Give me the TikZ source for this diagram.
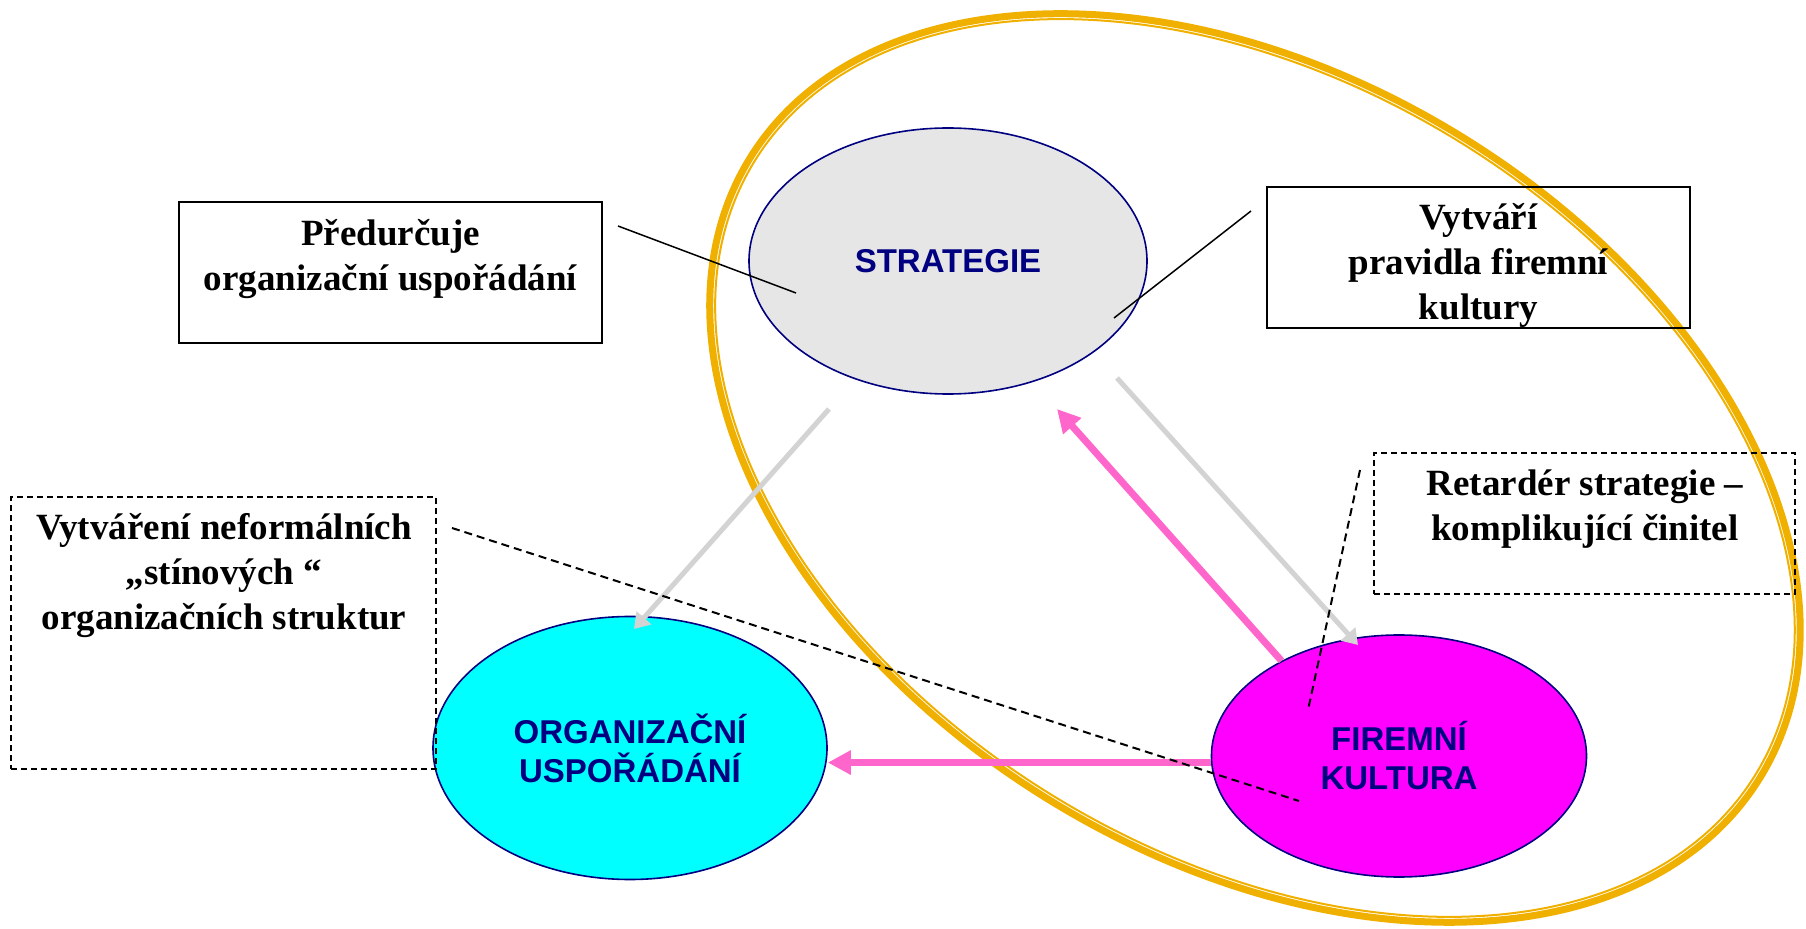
\documentclass[tikz,border=0pt]{standalone}
\usepackage{fontspec}
\newfontfamily\notefont{Liberation Serif}
\newfontfamily\ovalfont{Liberation Sans}
\usetikzlibrary{shapes.geometric,arrows.meta}
\definecolor{ringorange}{RGB}{240,176,0}
\definecolor{ovalnavy}{RGB}{0,0,128}
\definecolor{ovalgray}{RGB}{230,230,230}
\definecolor{ovalcyan}{RGB}{0,255,255}
\definecolor{ovalmagenta}{RGB}{255,0,255}
\definecolor{arrowpink}{RGB}{255,102,204}
\definecolor{arrowgray}{RGB}{211,211,211}

\begin{document}
\begin{tikzpicture}[x=0.5pt,y=0.5pt,
  oval/.style={ellipse,draw=ovalnavy,line width=0.8pt,inner sep=0pt,align=center,
    text=ovalnavy,font=\ovalfont\bfseries\fontsize{16.5}{19.5}\selectfont},
  notebox/.style={draw,line width=1pt,inner sep=0pt,minimum width=211.5pt,minimum height=70.5pt},
  dashbox/.style={notebox,dash pattern=on 3pt off 2pt},
  notetext/.style={align=center,inner sep=0pt,font=\notefont\bfseries\fontsize{18.5}{22.5}\selectfont},
  pointer/.style={line width=0.75pt},
  dashpointer/.style={line width=1pt,dash pattern=on 4pt off 2.5pt},
  pinkarrow/.style={draw=arrowpink,line width=3.5pt,-{Triangle[length=11.5pt,width=11.5pt]}},
  grayarrow/.style={draw=arrowgray,line width=2.5pt,-{Triangle[length=7.5pt,width=9.5pt]}}]

\useasboundingbox (0,0) rectangle (1806,928);

\coordinate (R_C) at (1255,460);
\draw[ringorange,line width=3.5pt,rotate around={-31.4:(R_C)}] (R_C) ellipse [x radius=296.25pt,y radius=195.25pt];
\draw[ringorange,line width=1pt,rotate around={-31.4:(R_C)}] (R_C) ellipse [x radius=293.5pt,y radius=192.5pt];

\node[oval,fill=ovalgray,minimum width=199pt,minimum height=133pt] (E_S) at (948,667) {STRATEGIE};
\node[oval,fill=ovalcyan,minimum width=197pt,minimum height=131.5pt] (E_O) at (630,180) {ORGANIZAČNÍ\\USPOŘÁDÁNÍ};
\node[oval,fill=ovalmagenta,minimum width=187.5pt,minimum height=121pt] (E_F) at (1399,172) {FIREMNÍ\\KULTURA};

\coordinate (P_S1) at (829,519);
\coordinate (P_O1) at (634,299);
\coordinate (P_S2) at (1117,550);
\coordinate (P_F1) at (1358,283);
\coordinate (P_S3) at (1057,519);

\draw[grayarrow] (P_S1) -- (P_O1);
\draw[grayarrow] (P_S2) -- (P_F1);
\draw[pinkarrow] (E_F.141) -- (P_S3);
\draw[pinkarrow] (E_F.182) -- (E_F.182 -| E_O.east);

\node[notebox] (B_1) at (390.5,655.5) {};
\node[notetext] (T_1) at (390.5,668.5) {Předurčuje\\organizační uspořádání};
\node[notebox] (B_2) at (1478.5,670.5) {};
\node[notetext] (T_2) at (1478.5,662.5) {Vytváří\\pravidla firemní\\kultury};
\node[dashbox,minimum width=212.5pt,minimum height=136pt] (B_3) at (223.5,295) {};
\node[notetext] (T_3) at (224,352.5) {Vytváření neformálních\\„stínových “\\organizačních struktur};
\node[dashbox,minimum width=210.5pt] (B_4) at (1584.5,404.5) {};
\node[notetext] (T_4) at (1585,419) {Retardér strategie –\\komplikující činitel};

\coordinate (P_1a) at (618,702);
\coordinate (P_1b) at (796,635);
\coordinate (P_2a) at (1251,717);
\coordinate (P_2b) at (1114,610);
\coordinate (P_3a) at (452,400);
\coordinate (P_3b) at (1299,127);
\coordinate (P_4a) at (1360,458);
\coordinate (P_4b) at (1308,218);

\draw[pointer] (P_1a) -- (P_1b);
\draw[pointer] (P_2a) -- (P_2b);
\draw[dashpointer] (P_3a) -- (P_3b);
\draw[dashpointer] (P_4a) -- (P_4b);

\end{tikzpicture}
\end{document}
